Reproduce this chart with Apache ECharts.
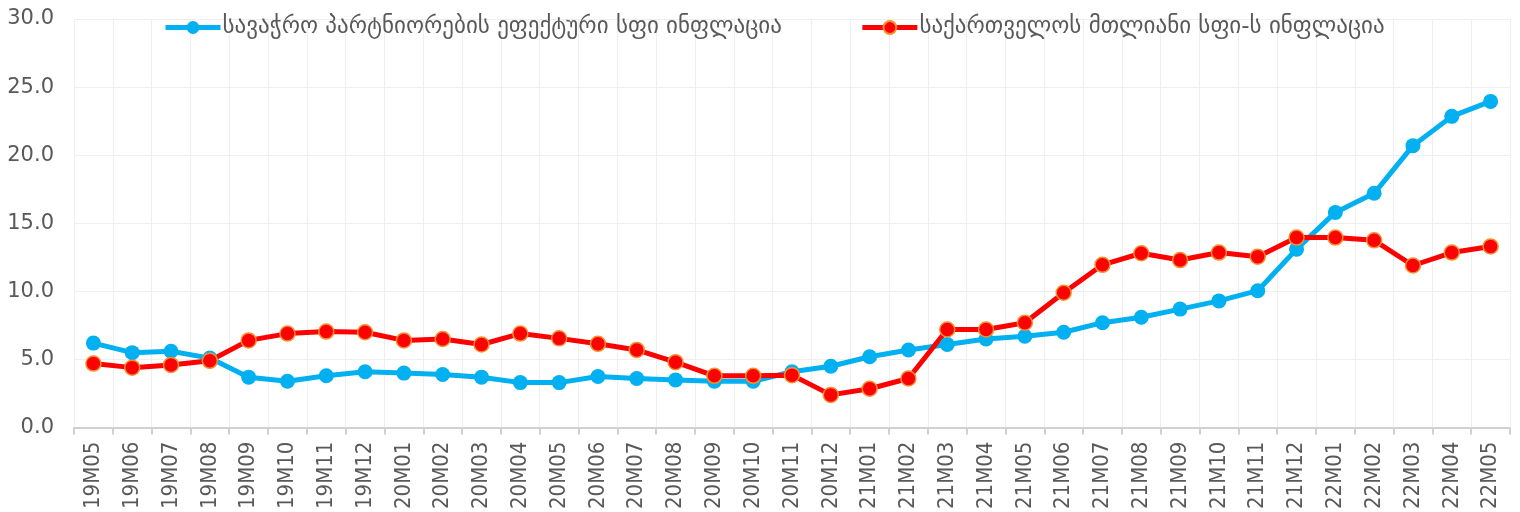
<!DOCTYPE html>
<html>
<head>
<meta charset="utf-8">
<script src="https://cdn.jsdelivr.net/npm/echarts@6/dist/echarts.min.js"></script>
<style>html,body{margin:0;padding:0;background:#fff}#c{width:1520px;height:512px}</style>
</head>
<body>
<div id="c"></div>
<script>
const categories = ['19M05','19M06','19M07','19M08','19M09','19M10','19M11','19M12',
  '20M01','20M02','20M03','20M04','20M05','20M06','20M07','20M08','20M09','20M10','20M11','20M12',
  '21M01','21M02','21M03','21M04','21M05','21M06','21M07','21M08','21M09','21M10','21M11','21M12',
  '22M01','22M02','22M03','22M04','22M05'];
const partnerName = 'სავაჭრო პარტნიორების ეფექტური სფი ინფლაცია';
const georgiaName = 'საქართველოს მთლიანი სფი-ს ინფლაცია';
const partnerValues = [6.2,5.5,5.6,5.1,3.7,3.4,3.8,4.1,
  4.0,3.9,3.7,3.3,3.3,3.75,3.6,3.5,3.4,3.4,4.1,4.5,
  5.2,5.7,6.1,6.5,6.7,7.0,7.7,8.1,8.7,9.3,10.05,13.1,
  15.8,17.2,20.7,22.85,23.95];
const georgiaValues = [4.7,4.4,4.6,4.9,6.4,6.9,7.05,7.0,
  6.4,6.5,6.1,6.9,6.55,6.15,5.7,4.8,3.8,3.8,3.85,2.4,
  2.85,3.6,7.2,7.2,7.7,9.9,11.95,12.8,12.3,12.85,12.55,13.95,
  13.95,13.75,11.9,12.85,13.3];
const yMin = 0, yMax = 30, yStep = 5;

const chart = echarts.init(document.getElementById('c'));
chart.setOption({
  animation: false,
  backgroundColor: '#ffffff',
  grid: {left: 74, right: 10, top: 19, bottom: 83, containLabel: false},
  legend: {
    top: 16, left: 163, padding: 0,
    itemWidth: 55, itemHeight: 16, itemGap: 78,
    textStyle: {fontFamily: 'DejaVu Sans', fontSize: 23, color: '#595959', padding: [0,0,0,-3]},
    lineStyle: {width: 5},
    data: [partnerName, georgiaName]
  },
  xAxis: {
    type: 'category',
    data: categories,
    boundaryGap: true,
    axisLine: {lineStyle: {color: '#d0d0d0', width: 2}},
    axisTick: {show: true, length: 7, lineStyle: {color: '#d0d0d0', width: 2}},
    axisLabel: {rotate: 90, interval: 0, margin: 14, color: '#595959', fontSize: 22,
      fontFamily: 'DejaVu Sans Condensed, Liberation Sans Narrow, Roboto'},
    splitLine: {show: true, lineStyle: {color: '#efefef', width: 1}}
  },
  yAxis: {
    type: 'value', min: yMin, max: yMax, interval: yStep,
    axisLabel: {formatter: v => v.toFixed(1), color: '#595959', fontSize: 21, margin: 20,
      fontFamily: 'DejaVu Sans'},
    axisLine: {show: false}, axisTick: {show: false},
    splitLine: {lineStyle: {color: '#efefef', width: 1}}
  },
  series: [
    {name: partnerName, type: 'line', data: partnerValues,
      symbol: 'circle', symbolSize: 15,
      lineStyle: {color: '#00b0f0', width: 5},
      itemStyle: {color: '#00b0f0'}},
    {name: georgiaName, type: 'line', data: georgiaValues,
      symbol: 'circle', symbolSize: 15,
      lineStyle: {color: '#ff0000', width: 5},
      itemStyle: {color: '#ff0000', borderColor: '#f39030', borderWidth: 1.5}}
  ]
});
</script>
</body>
</html>
